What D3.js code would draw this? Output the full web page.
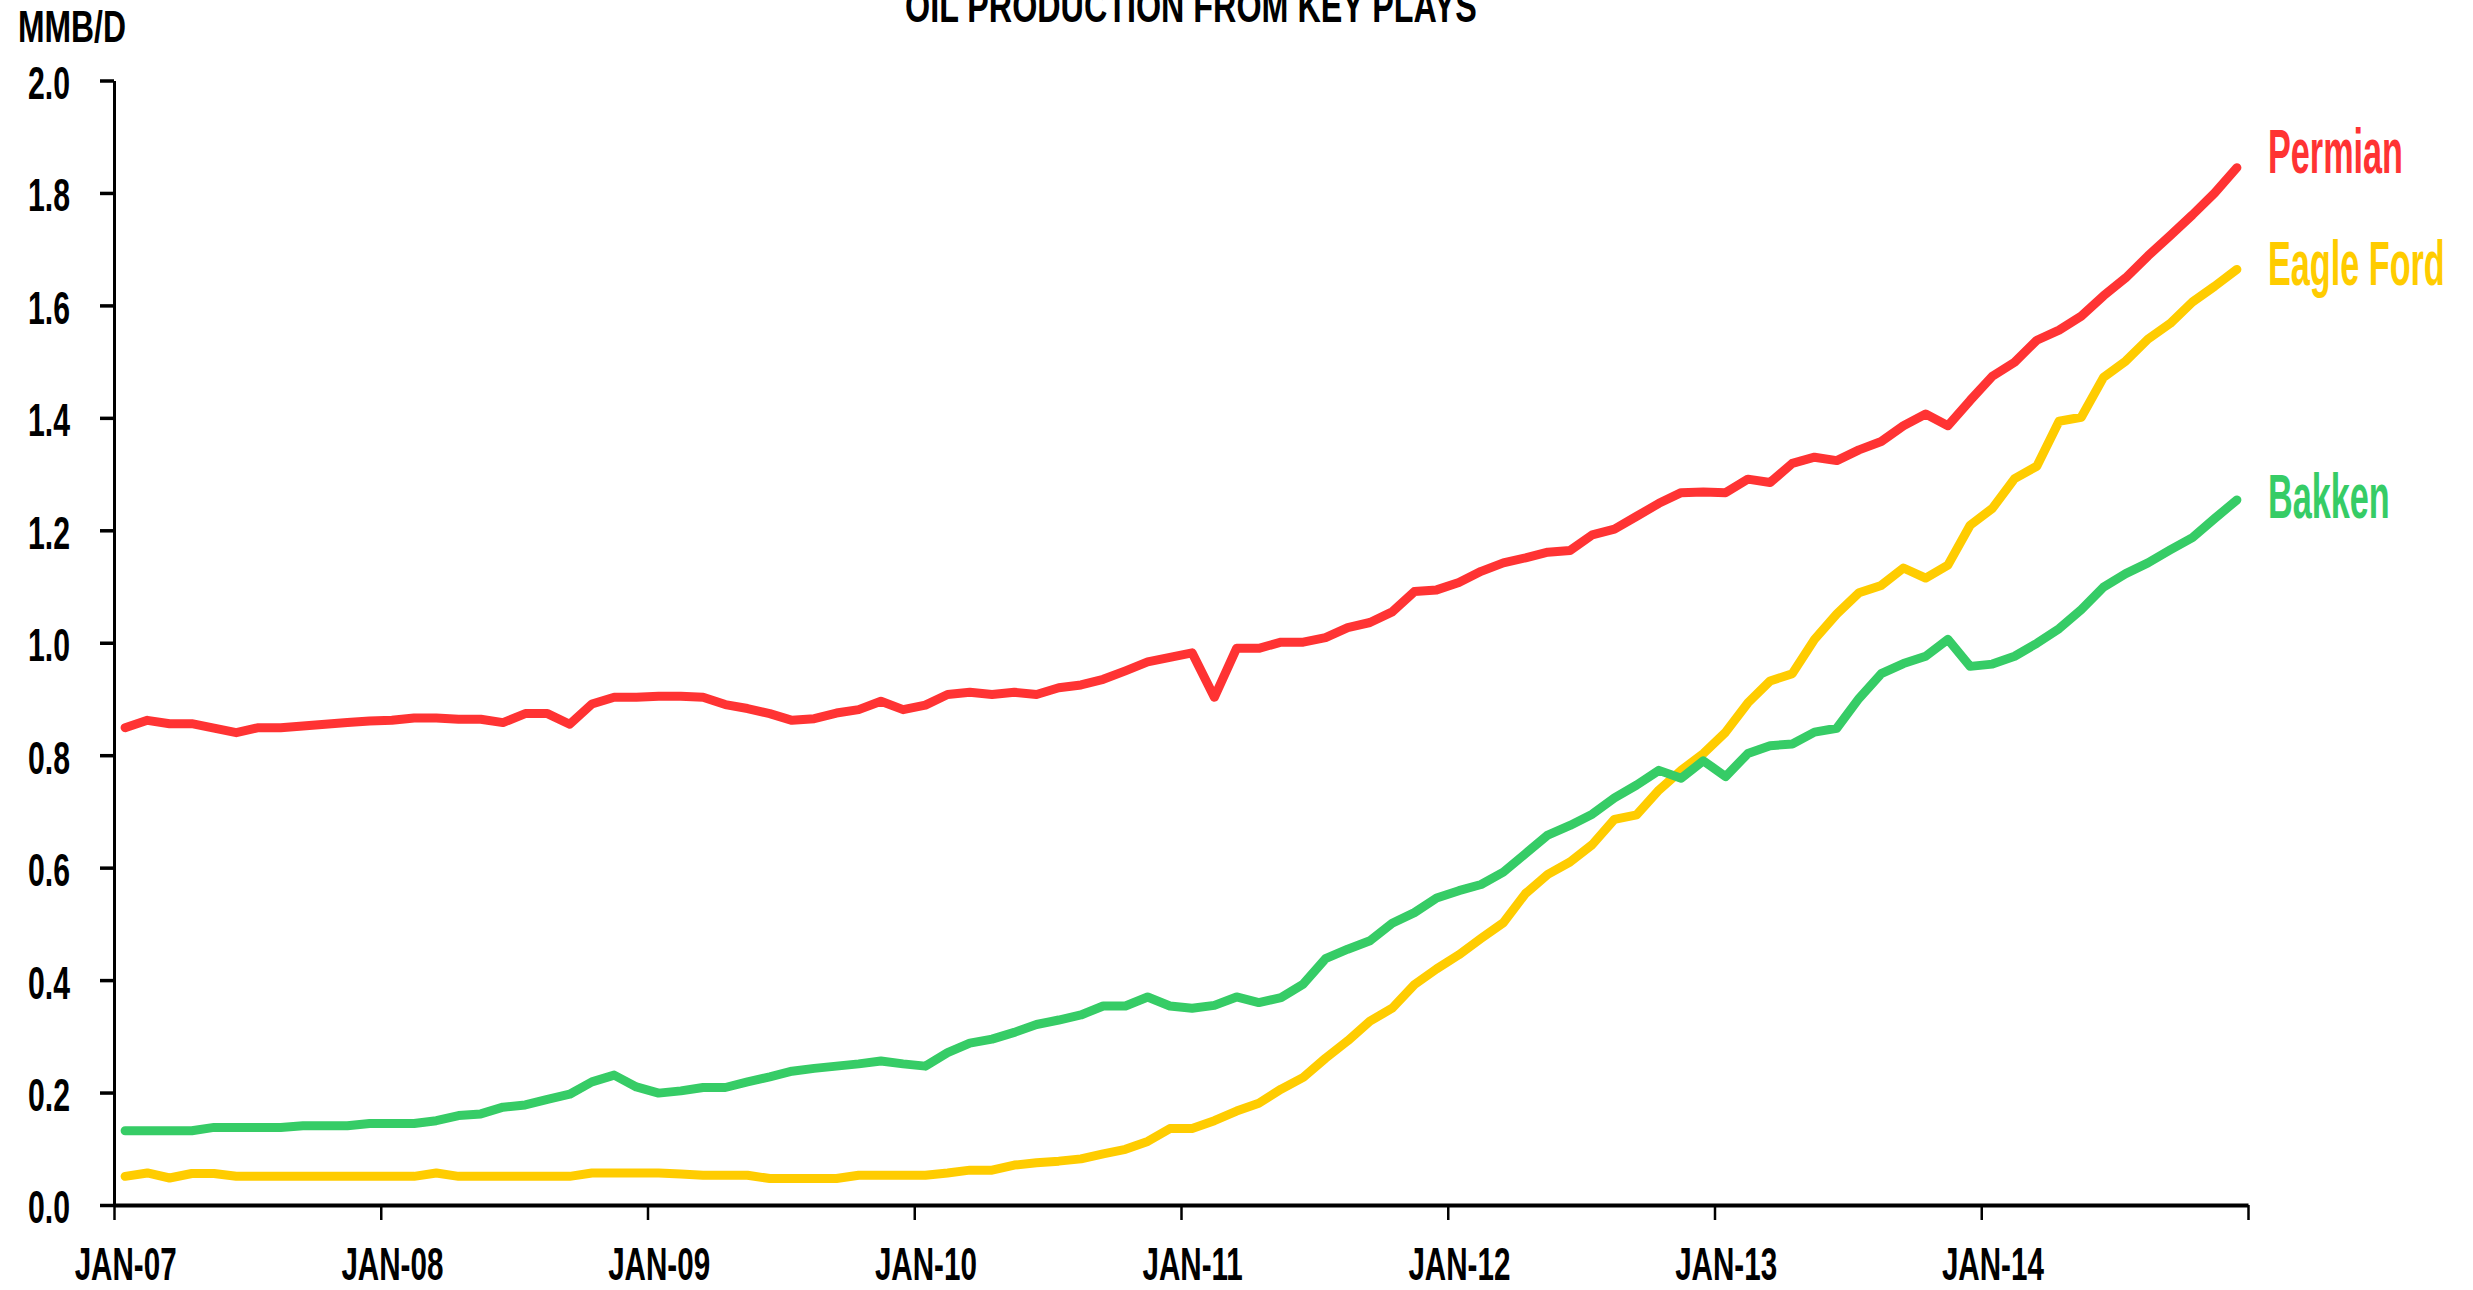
<!DOCTYPE html>
<html>
<head>
<meta charset="utf-8">
<script src="https://cdn.jsdelivr.net/npm/d3@7"></script>
<style>
  html, body { margin: 0; padding: 0; background: #fff; overflow: hidden; }
  svg text { font-family: "Liberation Sans Narrow", "Liberation Sans", Arial, sans-serif; font-weight: bold; }
</style>
</head>
<body>
<svg id="chart"></svg>
<script>
const chartTitle = 'OIL PRODUCTION FROM KEY PLAYS';
const unitLabel = 'MMB/D';
const yearLabels = ['JAN-07', 'JAN-08', 'JAN-09', 'JAN-10', 'JAN-11', 'JAN-12', 'JAN-13', 'JAN-14'];
const yTicks = [0, 0.2, 0.4, 0.6, 0.8, 1.0, 1.2, 1.4, 1.6, 1.8, 2.0];
const seriesNames = ['Permian', 'Eagle Ford', 'Bakken'];

// monthly, Jan 2007 - Dec 2014
const permian = [
  0.849, 0.862, 0.856, 0.856, 0.848, 0.840, 0.849, 0.849, 0.852, 0.855, 0.858, 0.861,
  0.862, 0.866, 0.866, 0.864, 0.864, 0.858, 0.874, 0.874, 0.855, 0.891, 0.903, 0.903,
  0.905, 0.905, 0.903, 0.890, 0.883, 0.874, 0.862, 0.865, 0.875, 0.881, 0.896, 0.881,
  0.889, 0.908, 0.912, 0.908, 0.912, 0.908, 0.920, 0.925, 0.935, 0.950, 0.966, 0.974,
  0.982, 0.903, 0.990, 0.990, 1.001, 1.001, 1.009, 1.027, 1.036, 1.055, 1.091, 1.094,
  1.107, 1.127, 1.142, 1.151, 1.161, 1.164, 1.192, 1.202, 1.225, 1.248, 1.267, 1.268,
  1.267, 1.291, 1.285, 1.319, 1.330, 1.324, 1.343, 1.358, 1.386, 1.407, 1.386, 1.431,
  1.474, 1.499, 1.538, 1.556, 1.581, 1.617, 1.649, 1.688, 1.724, 1.761, 1.800, 1.845
];
const eagleFord = [
  0.051, 0.057, 0.048, 0.056, 0.056, 0.051, 0.051, 0.051, 0.051, 0.051, 0.051, 0.051,
  0.051, 0.051, 0.057, 0.051, 0.051, 0.051, 0.051, 0.051, 0.051, 0.057, 0.057, 0.057,
  0.057, 0.055, 0.053, 0.053, 0.053, 0.047, 0.047, 0.047, 0.047, 0.053, 0.053, 0.053,
  0.053, 0.057, 0.062, 0.062, 0.071, 0.075, 0.078, 0.082, 0.091, 0.099, 0.113, 0.136,
  0.136, 0.150, 0.167, 0.181, 0.206, 0.227, 0.261, 0.292, 0.327, 0.350, 0.392, 0.420,
  0.445, 0.474, 0.502, 0.554, 0.588, 0.610, 0.641, 0.686, 0.694, 0.738, 0.773, 0.803,
  0.841, 0.893, 0.932, 0.945, 1.006, 1.051, 1.089, 1.102, 1.133, 1.115, 1.138, 1.209,
  1.239, 1.292, 1.314, 1.394, 1.401, 1.472, 1.501, 1.540, 1.568, 1.606, 1.634, 1.664
];
const bakken = [
  0.132, 0.132, 0.132, 0.132, 0.138, 0.138, 0.138, 0.138, 0.141, 0.141, 0.141, 0.145,
  0.145, 0.145, 0.150, 0.159, 0.162, 0.174, 0.178, 0.188, 0.197, 0.219, 0.231, 0.210,
  0.199, 0.203, 0.209, 0.209, 0.219, 0.228, 0.238, 0.243, 0.247, 0.251, 0.256, 0.251,
  0.247, 0.271, 0.288, 0.295, 0.307, 0.321, 0.329, 0.338, 0.354, 0.354, 0.370, 0.354,
  0.350, 0.355, 0.370, 0.360, 0.369, 0.393, 0.438, 0.455, 0.470, 0.501, 0.520, 0.546,
  0.559, 0.570, 0.592, 0.625, 0.658, 0.675, 0.695, 0.724, 0.747, 0.773, 0.759, 0.790,
  0.762, 0.803, 0.817, 0.820, 0.841, 0.848, 0.901, 0.945, 0.963, 0.976, 1.006, 0.958,
  0.962, 0.976, 0.999, 1.025, 1.059, 1.099, 1.123, 1.142, 1.165, 1.187, 1.221, 1.254
];

class PlaysChart {
    constructor() {
        this.width = 2473;
        this.height = 1290;
        this.plot = { left: 114, right: 2248, top: 80.5, bottom: 1205 };
        this.months = d3.timeMonth.range(new Date(2007, 0, 1), new Date(2015, 0, 1));
        this.series = [
            { name: seriesNames[0], values: permian,   color: '#ff3333', nudge: -18 },
            { name: seriesNames[1], values: eagleFord, color: '#ffcc00', nudge: -7 },
            { name: seriesNames[2], values: bakken,    color: '#36cc66', nudge: -5 }
        ];
        this.svg = null;
        this.xscale = null;
        this.yscale = null;
    }

    init() {
        this.svg = d3.select('#chart')
            .attr('width', this.width)
            .attr('height', this.height);

        // category axis: one slot per month, points sit in the middle of the slot
        this.xscale = d3.scaleLinear()
            .domain([0, this.months.length])
            .range([this.plot.left, this.plot.right]);
        this.yscale = d3.scaleLinear()
            .domain([0, 2])
            .range([this.plot.bottom, this.plot.top]);

        this.renderAxes();
        this.renderLines();
        this.renderText();
    }

    renderAxes() {
        const yaxis = d3.axisLeft(this.yscale)
            .tickValues(yTicks)
            .tickSize(14)
            .tickSizeOuter(0)
            .tickPadding(30)
            .tickFormat(d3.format('.1f'));

        const yg = this.svg.append('g')
            .attr('transform', `translate(${this.plot.left}, 0)`)
            .call(yaxis);
        yg.select('.domain').attr('stroke', '#000').attr('stroke-width', 3);
        yg.selectAll('.tick line').attr('stroke', '#000').attr('stroke-width', 3.5);
        yg.selectAll('.tick text')
            .attr('font-size', 46)
            .attr('font-family', null)
            .attr('dy', '0.39em')
            .attr('fill', '#000');
        this.squeeze(yg.selectAll('.tick text'), 42, '1.0');

        const xaxis = d3.axisBottom(this.xscale)
            .tickValues(d3.range(0, this.months.length + 1, 12))
            .tickSize(15)
            .tickSizeOuter(0)
            .tickFormat('');
        const xg = this.svg.append('g')
            .attr('transform', `translate(0, ${this.plot.bottom})`)
            .call(xaxis);
        xg.select('.domain').attr('stroke', '#000').attr('stroke-width', 4);
        xg.selectAll('.tick line').attr('stroke', '#000').attr('stroke-width', 2.5);

        // year labels centred on the January slot
        const labelAxis = d3.axisBottom(this.xscale)
            .tickValues(d3.range(0.5, this.months.length, 12))
            .tickSize(0)
            .tickFormat((d, i) => yearLabels[i]);
        const lg = this.svg.append('g')
            .attr('transform', `translate(0, ${this.plot.bottom})`)
            .call(labelAxis);
        lg.select('.domain').remove();
        lg.selectAll('.tick text')
            .attr('font-size', 46)
            .attr('font-family', null)
            .attr('y', 75)
            .attr('dy', null)
            .attr('fill', '#000');
        this.squeeze(lg.selectAll('.tick text'), 102, 'JAN-07');
    }

    renderLines() {
        const line = d3.line()
            .x((d, i) => this.xscale(i + 0.5))
            .y(d => this.yscale(d));

        this.svg.selectAll('path.play')
            .data(this.series)
            .enter()
            .append('path')
            .attr('class', 'play')
            .attr('d', d => line(d.values))
            .attr('fill', 'none')
            .attr('stroke', d => d.color)
            .attr('stroke-width', 9)
            .attr('stroke-linecap', 'round')
            .attr('stroke-linejoin', 'round');
    }

    renderText() {
        const title = this.svg.append('text')
            .attr('x', 1191)
            .attr('y', 22)
            .attr('text-anchor', 'middle')
            .attr('font-size', 46)
            .text(chartTitle);
        this.squeeze(title, 572);

        const unit = this.svg.append('text')
            .attr('x', 18)
            .attr('y', 42)
            .attr('font-size', 44)
            .text(unitLabel);
        this.squeeze(unit, 108);

        const labels = this.svg.selectAll('text.play-label')
            .data(this.series)
            .enter()
            .append('text')
            .attr('class', 'play-label')
            .attr('x', this.plot.right + 20)
            .attr('y', d => this.yscale(d.values[d.values.length - 1]) + d.nudge + 23)
            .attr('font-size', 63)
            .attr('fill', d => d.color)
            .text(d => d.name);
        this.squeeze(labels, 135, 'Permian');
    }

    // the original face is a very narrow one: squeeze the installed glyphs sideways
    squeeze(sel, target, sample) {
        const nodes = sel.nodes();
        const ref = nodes.find(n => n.textContent === sample) || nodes[0];
        const k = target / ref.getComputedTextLength();
        sel.each(function() {
            const t = d3.select(this);
            const x = +t.attr('x') || 0;
            t.attr('x', x / k).attr('transform', `scale(${k}, 1)`);
        });
    }
}

const chart = new PlaysChart();
chart.init();
</script>
</body>
</html>
